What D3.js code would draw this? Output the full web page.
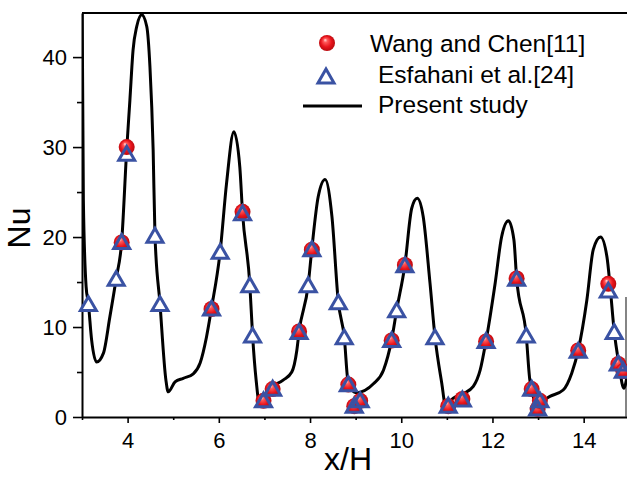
<!DOCTYPE html>
<html>
<head>
<meta charset="utf-8">
<script src="https://cdn.jsdelivr.net/npm/d3@7"></script>
<style>
    body { margin: 0; background: #fff; }
    text { font-family: "Liberation Sans", Arial, sans-serif; fill: #000; }
</style>
</head>
<body>
<div class="js-chart"></div>
<script>
'use strict';

//present study - Nu along x/H
var curveX = [3.00, 3.03, 3.09, 3.14, 3.21, 3.32, 3.47, 3.61, 3.75, 3.87, 3.98, 4.05, 4.12, 4.20, 4.31,
    4.42, 4.49, 4.56, 4.60, 4.71, 4.84, 4.89, 5.04, 5.22, 5.44, 5.59, 5.73, 5.84, 6.03, 6.17, 6.33,
    6.46, 6.52, 6.68, 6.74, 6.82, 6.89, 7.12, 7.41, 7.60, 7.71, 7.76, 7.96, 8.04, 8.18, 8.33,
    8.48, 8.62, 8.75, 8.84, 9.01, 9.39, 9.61, 9.79, 9.90, 10.08, 10.23, 10.35,
    10.48, 10.63, 10.74, 10.89, 10.97, 11.14, 11.36, 11.58, 11.73, 11.86, 12.06, 12.20, 12.35,
    12.47, 12.53, 12.74, 12.82, 12.97, 13.26, 13.55, 13.74, 13.88, 14.07, 14.21, 14.37,
    14.51, 14.58, 14.67, 14.77, 14.88, 14.95];
var curveNu = [48.0, 24.1, 14.5, 12.6, 8.6, 6.1, 7.1, 11.1, 15.4, 19.5, 29.7, 35.2, 40.8, 43.4, 44.7,
    43.4, 38.9, 29.7, 20.2, 12.6, 4.1, 2.8, 3.9, 4.3, 4.8, 6.0, 8.9, 12.1, 18.4, 26.0, 31.7,
    27.8, 22.7, 14.7, 9.1, 4.0, 1.5, 3.2, 4.1, 5.0, 7.4, 9.5, 14.7, 18.7, 24.5, 26.4,
    22.3, 12.8, 8.9, 3.7, 2.7, 3.7, 5.2, 8.6, 11.9, 16.9, 23.2, 24.3,
    22.3, 14.9, 8.9, 3.7, 1.3, 2.1, 2.6, 3.4, 5.2, 8.5, 14.9, 20.0, 21.8,
    19.7, 15.4, 9.1, 4.1, 1.5, 2.3, 3.0, 4.9, 7.4, 13.0, 18.6, 20.0,
    17.8, 14.5, 9.5, 6.0, 3.2, 4.5];

//Wang and Chen[11]
var wangX = [3.87, 3.98, 5.84, 6.52, 6.98, 7.18, 7.76, 8.04, 8.84, 8.97, 9.10, 9.79, 10.08,
    11.03, 11.34, 11.86, 12.53, 12.86, 12.99, 13.04, 13.88, 14.54, 14.76, 14.87];
var wangNu = [19.4, 30.0, 12.0, 22.8, 1.8, 3.1, 9.5, 18.6, 3.6, 1.2, 1.8, 8.5, 16.9,
    1.2, 2.0, 8.4, 15.4, 3.1, 0.9, 1.8, 7.4, 14.8, 5.9, 5.1];

//Esfahani et al.[24]
var esfX = [3.14, 3.75, 3.87, 3.98, 4.60, 4.71, 5.84, 6.03, 6.52, 6.68, 6.74, 6.98, 7.18, 7.76,
    7.96, 8.04, 8.62, 8.75, 8.84, 8.97, 9.10, 9.79, 9.90, 10.08, 10.74, 11.03, 11.34, 11.86,
    12.53, 12.74, 12.86, 12.99, 13.04, 13.88, 14.54, 14.67, 14.76, 14.87];
var esfNu = [12.6, 15.4, 19.5, 29.3, 20.2, 12.6, 12.1, 18.4, 22.7, 14.7, 9.1, 1.9, 3.2, 9.5,
    14.7, 18.7, 12.8, 8.9, 3.7, 1.3, 1.9, 8.6, 11.9, 16.9, 8.9, 1.3, 2.0, 8.5,
    15.4, 9.1, 3.2, 1.0, 1.9, 7.4, 14.1, 9.5, 6.0, 5.2];

//axis ticks
var xMajorTicks = [4, 6, 8, 10, 12, 14];
var xMinorTicks = [3, 5, 7, 9, 11, 13];
var yMajorTicks = [0, 10, 20, 30, 40];
var yMinorTicks = [5, 15, 25, 35];

var legendLabels = ['Wang and Chen[11]', 'Esfahani et al.[24]', 'Present study'];

var W = 627, H = 477;
var box = { l: 82, t: 13, r: 627, b: 417 };
var blue = '#3a52a3';

var svg = d3.select('.js-chart').append('svg')
    .attr('width', W)
    .attr('height', H);

var x = d3.scaleLinear().domain([3, 14.95]).range([box.l, box.r]);
var y = d3.scaleLinear().domain([0, 44.9]).range([box.b, box.t]);

//red ball gradient
var defs = svg.append('defs');
var grad = defs.append('radialGradient')
    .attr('id', 'ball')
    .attr('cx', 0.5).attr('cy', 0.5).attr('r', 0.55)
    .attr('fx', 0.38).attr('fy', 0.3);
[[0, '#ffe0e0'], [0.22, '#ff5a5a'], [0.6, '#e8141c'], [1, '#b0080c']].forEach(function (s) {
    grad.append('stop').attr('offset', s[0]).attr('stop-color', s[1]);
});

defs.append('clipPath').attr('id', 'plot-clip')
    .append('rect')
    .attr('x', box.l).attr('y', box.t)
    .attr('width', box.r - box.l).attr('height', box.b - box.t);

//triangle centred on its bounding box
function triangle(side) {
    var h = side * Math.sqrt(3) / 2;
    return 'M0,' + (-h / 2) + ' L' + (side / 2) + ',' + (h / 2) + ' L' + (-side / 2) + ',' + (h / 2) + ' Z';
}

/****
// axes
****/
function styleAxis(g) {
    g.selectAll('line').attr('stroke', '#000').attr('stroke-width', 1.6);
    g.selectAll('path').attr('stroke', '#000').attr('stroke-width', 2);
    g.selectAll('text').style('font-size', '22px').attr('fill', '#000');
}

svg.append('g')
    .attr('transform', 'translate(0,' + box.b + ')')
    .call(d3.axisBottom(x).tickValues(xMajorTicks).tickSize(6).tickSizeOuter(0).tickPadding(9).tickFormat(d3.format('d')))
    .call(styleAxis);

svg.append('g')
    .attr('transform', 'translate(0,' + box.b + ')')
    .call(d3.axisBottom(x).tickValues(xMinorTicks).tickSize(3).tickFormat(''))
    .call(function (g) { g.select('.domain').remove(); })
    .call(styleAxis);

svg.append('g')
    .attr('transform', 'translate(' + box.l + ',0)')
    .call(d3.axisLeft(y).tickValues(yMajorTicks).tickSize(9).tickSizeOuter(0).tickPadding(6).tickFormat(d3.format('d')))
    .call(styleAxis);

svg.append('g')
    .attr('transform', 'translate(' + box.l + ',0)')
    .call(d3.axisLeft(y).tickValues(yMinorTicks).tickSize(5).tickFormat(''))
    .call(function (g) { g.select('.domain').remove(); })
    .call(styleAxis);

//top frame line and the short right edge
svg.append('line')
    .attr('x1', box.l).attr('x2', box.r)
    .attr('y1', box.t).attr('y2', box.t)
    .attr('stroke', '#000').attr('stroke-width', 2);
svg.append('line')
    .attr('x1', box.r - 1).attr('x2', box.r - 1)
    .attr('y1', 297).attr('y2', box.b)
    .attr('stroke', '#333').attr('stroke-width', 1.2);

//axis titles
svg.append('text')
    .attr('transform', 'translate(30,228) rotate(-90)')
    .attr('text-anchor', 'middle')
    .style('font-size', '32px')
    .text('Nu');
svg.append('text')
    .attr('x', 348).attr('y', 470)
    .attr('text-anchor', 'middle')
    .style('font-size', '32px')
    .text('x/H');

/****
// data layers
****/
var line = d3.line()
    .x(function (d) { return x(d[0]); })
    .y(function (d) { return y(d[1]); })
    .curve(d3.curveMonotoneX);

svg.append('path')
    .datum(d3.zip(curveX, curveNu))
    .attr('clip-path', 'url(#plot-clip)')
    .attr('d', line)
    .attr('fill', 'none')
    .attr('stroke', '#000')
    .attr('stroke-width', 3)
    .attr('stroke-linejoin', 'round');

var esf = d3.zip(esfX, esfNu);
var wang = d3.zip(wangX, wangNu);
var triPath = triangle(16);

//white triangle interiors first so the curve hides inside
svg.append('g').selectAll('path')
    .data(esf).enter().append('path')
    .attr('d', triPath)
    .attr('transform', function (d) { return 'translate(' + x(d[0]) + ',' + y(d[1]) + ')'; })
    .attr('fill', '#fff');

svg.append('g').selectAll('circle')
    .data(wang).enter().append('circle')
    .attr('cx', function (d) { return x(d[0]); })
    .attr('cy', function (d) { return y(d[1]); })
    .attr('r', 8)
    .attr('fill', 'url(#ball)');

svg.append('g').selectAll('path')
    .data(esf).enter().append('path')
    .attr('d', triPath)
    .attr('transform', function (d) { return 'translate(' + x(d[0]) + ',' + y(d[1]) + ')'; })
    .attr('fill', 'none')
    .attr('stroke', blue)
    .attr('stroke-width', 3)
    .attr('stroke-linejoin', 'miter');

/****
// legend
****/
var legend = svg.append('g');
legend.append('circle')
    .attr('cx', 327).attr('cy', 43).attr('r', 8)
    .attr('fill', 'url(#ball)');
legend.append('path')
    .attr('d', triPath)
    .attr('transform', 'translate(326,76)')
    .attr('fill', '#fff')
    .attr('stroke', blue)
    .attr('stroke-width', 3);
legend.append('line')
    .attr('x1', 303).attr('x2', 362)
    .attr('y1', 106).attr('y2', 106)
    .attr('stroke', '#000').attr('stroke-width', 3);

var legendPos = [[370, 52], [378, 83], [378, 113]];
legend.selectAll('text')
    .data(legendLabels).enter().append('text')
    .attr('x', function (d, i) { return legendPos[i][0]; })
    .attr('y', function (d, i) { return legendPos[i][1]; })
    .style('font-size', '24.5px')
    .text(function (d) { return d; });
</script>
</body>
</html>
